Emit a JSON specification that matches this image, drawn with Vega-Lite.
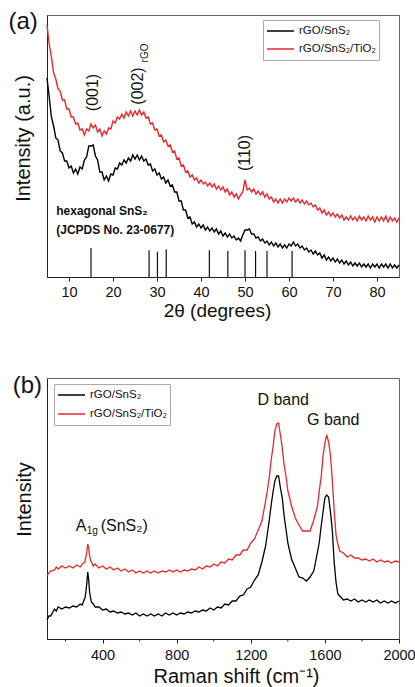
{
"$schema": "https://vega.github.io/schema/vega-lite/v6.json",
"padding": {"left": 8, "top": 9, "right": 2, "bottom": 1},
"spacing": 52,
"config": {
 "font": "Liberation Sans",
 "view": {"stroke": "#666", "strokeWidth": 1},
 "axis": {"grid": false, "domainColor": "#222", "tickColor": "#222", "labelColor": "#111", "titleColor": "#111", "titleFontWeight": "normal", "labelFontSize": 14.5, "titleFontSize": 20, "labelFlush": false, "labelOverlap": false},
 "text": {"color": "#111"}
},
"resolve": {"scale": {"color": "independent"}, "legend": {"color": "independent"}},
"datasets": {
 "xrd": [
  {"t":5,"k":199,"r":252},{"t":5.5,"k":180,"r":233},{"t":6,"k":160,"r":220},{"t":6.5,"k":151,"r":204},{"t":7,"k":139,"r":198},{"t":7.5,"k":137,"r":188},{"t":8,"k":126,"r":186},{"t":8.5,"k":124,"r":177},{"t":9,"k":116,"r":177},{"t":9.5,"k":116,"r":168},
  {"t":10,"k":109,"r":168},{"t":10.5,"k":111,"r":160},{"t":11,"k":104,"r":160},{"t":11.5,"k":108,"r":153},{"t":12,"k":103,"r":154},{"t":12.5,"k":110,"r":147},{"t":13,"k":108,"r":148},{"t":13.5,"k":117,"r":142},{"t":14,"k":120,"r":148},{"t":14.5,"k":131,"r":146},
  {"t":15,"k":131,"r":153},{"t":15.5,"k":132,"r":149},{"t":16,"k":121,"r":152},{"t":16.5,"k":117,"r":145},{"t":17,"k":105,"r":148},{"t":17.5,"k":105,"r":141},{"t":18,"k":97,"r":146},{"t":18.5,"k":101,"r":143},{"t":19,"k":96,"r":149},{"t":19.5,"k":103,"r":148},
  {"t":20,"k":102,"r":156},{"t":20.5,"k":109,"r":154},{"t":21,"k":108,"r":160},{"t":21.5,"k":114,"r":158},{"t":22,"k":112,"r":163},{"t":22.5,"k":117,"r":159},{"t":23,"k":114,"r":165},{"t":23.5,"k":119,"r":161},{"t":24,"k":116,"r":166},{"t":24.5,"k":122,"r":161},
  {"t":25,"k":118,"r":166},{"t":25.5,"k":122,"r":162},{"t":26,"k":117,"r":167},{"t":26.5,"k":121,"r":162},{"t":27,"k":116,"r":165},{"t":27.5,"k":118,"r":159},{"t":28,"k":112,"r":160},{"t":28.5,"k":113,"r":153},{"t":29,"k":106,"r":154},{"t":29.5,"k":108,"r":147},
  {"t":30,"k":102,"r":148},{"t":30.5,"k":104,"r":141},{"t":31,"k":98,"r":142},{"t":31.5,"k":100,"r":135},{"t":32,"k":94,"r":137},{"t":32.5,"k":97,"r":131},{"t":33,"k":91,"r":132},{"t":33.5,"k":92,"r":125},{"t":34,"k":85,"r":126},{"t":34.5,"k":85,"r":118},
  {"t":35,"k":76,"r":119},{"t":35.5,"k":76,"r":111},{"t":36,"k":67,"r":112},{"t":36.5,"k":67,"r":105},{"t":37,"k":59,"r":106},{"t":37.5,"k":60,"r":100},{"t":38,"k":53,"r":102},{"t":38.5,"k":55,"r":97},{"t":39,"k":50,"r":99},{"t":39.5,"k":53,"r":94},
  {"t":40,"k":49,"r":97},{"t":40.5,"k":52,"r":93},{"t":41,"k":47,"r":95},{"t":41.5,"k":50,"r":91},{"t":42,"k":46,"r":94},{"t":42.5,"k":49,"r":90},{"t":43,"k":45,"r":93},{"t":43.5,"k":48,"r":88},{"t":44,"k":43,"r":91},{"t":44.5,"k":46,"r":87},
  {"t":45,"k":41,"r":90},{"t":45.5,"k":44,"r":85},{"t":46,"k":40,"r":88},{"t":46.5,"k":43,"r":82},{"t":47,"k":39,"r":85},{"t":47.5,"k":41,"r":80},{"t":48,"k":37,"r":83},{"t":48.5,"k":39,"r":78},{"t":49,"k":36,"r":82},{"t":49.5,"k":42,"r":85},
  {"t":50,"k":47,"r":97},{"t":50.5,"k":47,"r":87},{"t":51,"k":48,"r":89},{"t":51.5,"k":43,"r":85},{"t":52,"k":43,"r":88},{"t":52.5,"k":39,"r":83},{"t":53,"k":40,"r":86},{"t":53.5,"k":36,"r":82},{"t":54,"k":38,"r":85},{"t":54.5,"k":34,"r":80},
  {"t":55,"k":36,"r":83},{"t":55.5,"k":32,"r":78},{"t":56,"k":35,"r":80},{"t":56.5,"k":31,"r":75},{"t":57,"k":34,"r":78},{"t":57.5,"k":30,"r":74},{"t":58,"k":33,"r":78},{"t":58.5,"k":29,"r":74},{"t":59,"k":32,"r":78},{"t":59.5,"k":29,"r":75},
  {"t":60,"k":33,"r":79},{"t":60.5,"k":31,"r":76},{"t":61,"k":35,"r":79},{"t":61.5,"k":31,"r":75},{"t":62,"k":33,"r":78},{"t":62.5,"k":29,"r":74},{"t":63,"k":31,"r":77},{"t":63.5,"k":27,"r":73},{"t":64,"k":29,"r":76},{"t":64.5,"k":25,"r":72},
  {"t":65,"k":27,"r":74},{"t":65.5,"k":23,"r":70},{"t":66,"k":26,"r":72},{"t":66.5,"k":22,"r":67},{"t":67,"k":24,"r":69},{"t":67.5,"k":19,"r":64},{"t":68,"k":22,"r":67},{"t":68.5,"k":17,"r":62},{"t":69,"k":20,"r":65},{"t":69.5,"k":16,"r":61},
  {"t":70,"k":19,"r":64},{"t":70.5,"k":15,"r":60},{"t":71,"k":18,"r":63},{"t":71.5,"k":14,"r":59},{"t":72,"k":17,"r":62},{"t":72.5,"k":13,"r":57},{"t":73,"k":16,"r":60},{"t":73.5,"k":12,"r":57},{"t":74,"k":15,"r":61},{"t":74.5,"k":11,"r":57},
  {"t":75,"k":14,"r":60},{"t":75.5,"k":11,"r":56},{"t":76,"k":14,"r":61},{"t":76.5,"k":10,"r":57},{"t":77,"k":13,"r":60},{"t":77.5,"k":10,"r":56},{"t":78,"k":13,"r":61},{"t":78.5,"k":9,"r":57},{"t":79,"k":13,"r":60},{"t":79.5,"k":10,"r":55},
  {"t":80,"k":13,"r":60},{"t":80.5,"k":9,"r":56},{"t":81,"k":13,"r":60},{"t":81.5,"k":10,"r":56},{"t":82,"k":13,"r":61},{"t":82.5,"k":9,"r":55},{"t":83,"k":13,"r":60},{"t":83.5,"k":9,"r":56},{"t":84,"k":12,"r":59},{"t":84.5,"k":9,"r":55},{"t":85,"k":12,"r":59}
 ],
 "raman": [
  {"w":100,"k":19,"r":63},{"w":110,"k":23,"r":66},{"w":120,"k":23,"r":68},{"w":140,"k":30,"r":69},{"w":150,"k":28,"r":72},{"w":160,"k":32,"r":70},{"w":180,"k":30,"r":73},{"w":200,"k":32,"r":71},{"w":220,"k":31,"r":73},{"w":240,"k":33,"r":71},
  {"w":260,"k":32,"r":74},{"w":280,"k":35,"r":72},{"w":290,"k":34,"r":75},{"w":300,"k":39,"r":76},{"w":305,"k":41,"r":78},{"w":310,"k":47,"r":82},{"w":315,"k":56,"r":87},{"w":320,"k":67,"r":95},{"w":325,"k":59,"r":91},{"w":330,"k":47,"r":83},
  {"w":335,"k":41,"r":79},{"w":340,"k":37,"r":77},{"w":350,"k":35,"r":73},{"w":360,"k":32,"r":75},{"w":380,"k":32,"r":71},{"w":400,"k":29,"r":73},{"w":420,"k":30,"r":70},{"w":440,"k":27,"r":72},{"w":460,"k":28,"r":69},{"w":480,"k":26,"r":71},
  {"w":500,"k":27,"r":68},{"w":520,"k":25,"r":70},{"w":540,"k":26,"r":67},{"w":560,"k":24,"r":69},{"w":580,"k":26,"r":66},{"w":600,"k":23,"r":68},{"w":620,"k":25,"r":66},{"w":640,"k":23,"r":68},{"w":660,"k":25,"r":66},{"w":680,"k":23,"r":68},
  {"w":700,"k":25,"r":66},{"w":720,"k":23,"r":68},{"w":740,"k":26,"r":67},{"w":760,"k":24,"r":69},{"w":780,"k":26,"r":67},{"w":800,"k":24,"r":69},{"w":820,"k":26,"r":67},{"w":840,"k":25,"r":69},{"w":860,"k":27,"r":68},{"w":880,"k":26,"r":70},
  {"w":900,"k":28,"r":69},{"w":920,"k":27,"r":72},{"w":940,"k":29,"r":70},{"w":960,"k":28,"r":73},{"w":980,"k":31,"r":72},{"w":1000,"k":29,"r":75},{"w":1020,"k":32,"r":73},{"w":1040,"k":31,"r":77},{"w":1060,"k":35,"r":76},{"w":1080,"k":34,"r":80},
  {"w":1100,"k":38,"r":79},{"w":1120,"k":38,"r":84},{"w":1140,"k":43,"r":84},{"w":1160,"k":44,"r":89},{"w":1180,"k":50,"r":89},{"w":1200,"k":52,"r":96},{"w":1220,"k":59,"r":100},{"w":1240,"k":64,"r":109},{"w":1260,"k":77,"r":118},{"w":1280,"k":93,"r":138},
  {"w":1290,"k":106,"r":149},{"w":1300,"k":119,"r":162},{"w":1310,"k":134,"r":179},{"w":1320,"k":147,"r":192},{"w":1330,"k":158,"r":208},{"w":1340,"k":163,"r":215},{"w":1350,"k":163,"r":216},{"w":1360,"k":151,"r":204},{"w":1370,"k":141,"r":191},{"w":1380,"k":123,"r":174},
  {"w":1390,"k":110,"r":163},{"w":1400,"k":96,"r":148},{"w":1410,"k":88,"r":141},{"w":1420,"k":80,"r":133},{"w":1440,"k":71,"r":121},{"w":1460,"k":62,"r":114},{"w":1480,"k":61,"r":108},{"w":1500,"k":58,"r":108},{"w":1520,"k":62,"r":108},{"w":1540,"k":68,"r":119},
  {"w":1560,"k":87,"r":133},{"w":1570,"k":97,"r":149},{"w":1580,"k":113,"r":162},{"w":1590,"k":127,"r":183},{"w":1600,"k":141,"r":196},{"w":1610,"k":144,"r":204},{"w":1620,"k":142,"r":197},{"w":1630,"k":127,"r":184},{"w":1640,"k":109,"r":159},{"w":1650,"k":77,"r":129},
  {"w":1660,"k":57,"r":104},{"w":1670,"k":45,"r":95},{"w":1680,"k":43,"r":88},{"w":1700,"k":39,"r":86},{"w":1720,"k":40,"r":82},{"w":1740,"k":38,"r":84},{"w":1760,"k":40,"r":81},{"w":1780,"k":37,"r":81},{"w":1800,"k":39,"r":79},{"w":1820,"k":37,"r":80},
  {"w":1840,"k":39,"r":78},{"w":1860,"k":37,"r":80},{"w":1880,"k":39,"r":77},{"w":1900,"k":36,"r":79},{"w":1920,"k":38,"r":77},{"w":1940,"k":36,"r":78},{"w":1960,"k":38,"r":76},{"w":1980,"k":36,"r":78},{"w":2000,"k":38,"r":77}
 ]
},
"vconcat": [
 {
  "width": 352, "height": 262,
  "layer": [
   {
    "data": {"name": "xrd"},
    "transform": [{"fold": ["r", "k"], "as": ["s", "v"]}],
    "mark": {"type": "line", "strokeWidth": 1.4},
    "encoding": {
     "x": {"field": "t", "type": "quantitative", "scale": {"domain": [5, 85], "nice": false, "zero": false},
       "axis": {"title": "2θ (degrees)", "titleFontSize": 19, "titleX": 170, "values": [10,15,20,25,30,35,40,45,50,55,60,65,70,75,80], "format": "d", "labelExpr": "datum.value % 10 == 0 ? datum.label : ''", "labelOverlap": false, "tickSize": {"condition": {"test": "datum.value % 10 == 0", "value": 4}, "value": 2}, "labelPadding": 4, "titlePadding": 3}},
     "y": {"field": "v", "type": "quantitative", "scale": {"domain": [0, 262], "nice": false, "zero": false},
       "axis": {"title": "Intensity (a.u.)", "labels": false, "ticks": false, "titlePadding": 14, "titleY": 123}},
     "color": {"field": "s", "type": "nominal", "scale": {"domain": ["k", "r"], "range": ["#000000", "#e8282b"]},
       "legend": {"title": null, "orient": "none", "legendX": 216, "legendY": 5, "symbolType": "stroke", "symbolSize": 729, "symbolStrokeWidth": 1.5, "labelFontSize": 11.5, "labelColor": "#111", "labelExpr": "datum.value == 'k' ? 'rGO/SnS₂' : 'rGO/SnS₂/TiO₂'", "strokeColor": "#aaa", "fillColor": "white", "padding": 3, "clipHeight": 16, "rowPadding": 2, "labelOffset": 4}}
    }
   },
   {
    "data": {"values": [{"p":15.0,"lo":0,"h":29},{"p":28.2,"lo":0,"h":26.7},{"p":30.1,"lo":0,"h":25.3},{"p":32.1,"lo":0,"h":27.7},{"p":41.9,"lo":0,"h":26.7},{"p":46.1,"lo":0,"h":26},{"p":50.0,"lo":0,"h":26.7},{"p":52.4,"lo":0,"h":26},{"p":55.0,"lo":0,"h":26},{"p":60.7,"lo":0,"h":26}]},
    "mark": {"type": "rule", "strokeWidth": 1.2, "color": "#111"},
    "encoding": {
     "x": {"field": "p", "type": "quantitative", "scale": {"domain": [5, 85], "nice": false, "zero": false}},
     "y": {"field": "lo", "type": "quantitative", "scale": {"domain": [0, 262], "nice": false, "zero": false}},
     "y2": {"field": "h"}
    }
   },
   {
    "data": {"values": [{"x":15.5,"y":184.5,"txt":"(001)"},{"x":25.6,"y":191,"txt":"(002)"},{"x":49.9,"y":124,"txt":"(110)"}]},
    "mark": {"type": "text", "angle": 270, "fontSize": 16, "align": "center", "baseline": "middle"},
    "encoding": {
     "x": {"field": "x", "type": "quantitative", "scale": {"domain": [5, 85], "nice": false, "zero": false}},
     "y": {"field": "y", "type": "quantitative", "scale": {"domain": [0, 262], "nice": false, "zero": false}},
     "text": {"field": "txt", "type": "nominal"}
    }
   },
   {
    "data": {"values": [{"x":27.3,"y":224,"txt":"rGO"}]},
    "mark": {"type": "text", "angle": 270, "fontSize": 10, "align": "center", "baseline": "middle"},
    "encoding": {
     "x": {"field": "x", "type": "quantitative", "scale": {"domain": [5, 85], "nice": false, "zero": false}},
     "y": {"field": "y", "type": "quantitative", "scale": {"domain": [0, 262], "nice": false, "zero": false}},
     "text": {"field": "txt", "type": "nominal"}
    }
   },
   {
    "data": {"values": [{"x":7.1,"y":66,"txt":"hexagonal SnS₂"},{"x":7.1,"y":47,"txt":"(JCPDS No. 23-0677)"}]},
    "mark": {"type": "text", "fontSize": 12, "fontWeight": "bold", "align": "left", "baseline": "middle"},
    "encoding": {
     "x": {"field": "x", "type": "quantitative", "scale": {"domain": [5, 85], "nice": false, "zero": false}},
     "y": {"field": "y", "type": "quantitative", "scale": {"domain": [0, 262], "nice": false, "zero": false}},
     "text": {"field": "txt", "type": "nominal"}
    }
   },
   {
    "data": {"values": [{"x":-3.75,"y":255,"txt":"(a)"}]},
    "mark": {"type": "text", "fontSize": 24, "align": "left", "baseline": "middle"},
    "encoding": {
     "x": {"field": "x", "type": "quantitative", "scale": {"domain": [5, 85], "nice": false, "zero": false}},
     "y": {"field": "y", "type": "quantitative", "scale": {"domain": [0, 262], "nice": false, "zero": false}},
     "text": {"field": "txt", "type": "nominal"}
    }
   }
  ]
 },
 {
  "width": 352, "height": 261,
  "layer": [
   {
    "data": {"name": "raman"},
    "transform": [{"fold": ["r", "k"], "as": ["s", "v"]}],
    "mark": {"type": "line", "strokeWidth": 1.3},
    "encoding": {
     "x": {"field": "w", "type": "quantitative", "scale": {"domain": [100, 2000], "nice": false, "zero": false},
       "axis": {"title": "Raman shift (cm⁻¹)", "titleX": 189, "values": [400,800,1200,1600,2000], "format": "d", "labelOverlap": false, "labelFlush": false, "tickSize": 4, "labelPadding": 5, "titlePadding": 5}},
     "y": {"field": "v", "type": "quantitative", "scale": {"domain": [0, 261], "nice": false, "zero": false},
       "axis": {"title": "Intensity", "labels": false, "ticks": false, "titlePadding": 13, "titleY": 121}},
     "color": {"field": "s", "type": "nominal", "scale": {"domain": ["k", "r"], "range": ["#000000", "#e8282b"]},
       "legend": {"title": null, "orient": "none", "legendX": 7, "legendY": 6, "symbolType": "stroke", "symbolSize": 729, "symbolStrokeWidth": 1.5, "labelFontSize": 11.5, "labelColor": "#111", "labelExpr": "datum.value == 'k' ? 'rGO/SnS₂' : 'rGO/SnS₂/TiO₂'", "strokeColor": "#aaa", "fillColor": "white", "padding": 3, "clipHeight": 16, "rowPadding": 3, "labelOffset": 4}}
    }
   },
   {
    "data": {"values": [{"m":200,"lo":0},{"m":600,"lo":0},{"m":1000,"lo":0},{"m":1400,"lo":0},{"m":1800,"lo":0}]},
    "mark": {"type": "point", "shape": "M0,0V1", "size": 25, "filled": false, "color": "#222", "strokeWidth": 1, "opacity": 1},
    "encoding": {
     "x": {"field": "m", "type": "quantitative", "scale": {"domain": [100, 2000], "nice": false, "zero": false}},
     "y": {"field": "lo", "type": "quantitative", "scale": {"domain": [0, 261], "nice": false, "zero": false}}
    }
   },
   {
    "data": {"values": [{"x":1375,"y":239,"txt":"D band"},{"x":1645,"y":219,"txt":"G band"}]},
    "mark": {"type": "text", "fontSize": 16, "align": "center", "baseline": "middle"},
    "encoding": {
     "x": {"field": "x", "type": "quantitative", "scale": {"domain": [100, 2000], "nice": false, "zero": false}},
     "y": {"field": "y", "type": "quantitative", "scale": {"domain": [0, 261], "nice": false, "zero": false}},
     "text": {"field": "txt", "type": "nominal"}
    }
   },
   {
    "data": {"values": [{"x":255,"y":113,"txt":"A"}]},
    "mark": {"type": "text", "fontSize": 16, "align": "left", "baseline": "middle"},
    "encoding": {
     "x": {"field": "x", "type": "quantitative", "scale": {"domain": [100, 2000], "nice": false, "zero": false}},
     "y": {"field": "y", "type": "quantitative", "scale": {"domain": [0, 261], "nice": false, "zero": false}},
     "text": {"field": "txt", "type": "nominal"}
    }
   },
   {
    "data": {"values": [{"x":255,"y":113,"txt":"1g"}]},
    "mark": {"type": "text", "fontSize": 10, "align": "left", "baseline": "middle", "dx": 11, "dy": 5},
    "encoding": {
     "x": {"field": "x", "type": "quantitative", "scale": {"domain": [100, 2000], "nice": false, "zero": false}},
     "y": {"field": "y", "type": "quantitative", "scale": {"domain": [0, 261], "nice": false, "zero": false}},
     "text": {"field": "txt", "type": "nominal"}
    }
   },
   {
    "data": {"values": [{"x":255,"y":113,"txt":"(SnS₂)"}]},
    "mark": {"type": "text", "fontSize": 16, "align": "left", "baseline": "middle", "dx": 25},
    "encoding": {
     "x": {"field": "x", "type": "quantitative", "scale": {"domain": [100, 2000], "nice": false, "zero": false}},
     "y": {"field": "y", "type": "quantitative", "scale": {"domain": [0, 261], "nice": false, "zero": false}},
     "text": {"field": "txt", "type": "nominal"}
    }
   },
   {
    "data": {"values": [{"x":-85.5,"y":253,"txt":"(b)"}]},
    "mark": {"type": "text", "fontSize": 24, "align": "left", "baseline": "middle"},
    "encoding": {
     "x": {"field": "x", "type": "quantitative", "scale": {"domain": [100, 2000], "nice": false, "zero": false}},
     "y": {"field": "y", "type": "quantitative", "scale": {"domain": [0, 261], "nice": false, "zero": false}},
     "text": {"field": "txt", "type": "nominal"}
    }
   }
  ]
 }
]
}
